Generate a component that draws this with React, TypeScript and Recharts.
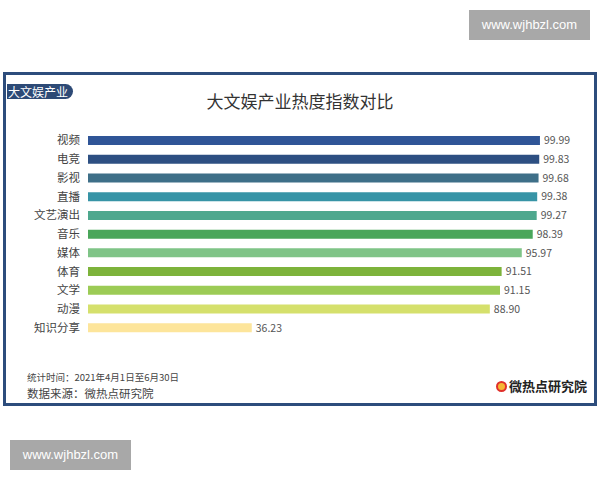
import { BarChart, Bar, XAxis, YAxis, Cell, LabelList } from 'recharts';

const categories = ['视频', '电竞', '影视', '直播', '文艺演出', '音乐', '媒体', '体育', '文学', '动漫', '知识分享'];
const heatValues = [99.99, 99.83, 99.68, 99.38, 99.27, 98.39, 95.97, 91.51, 91.15, 88.9, 36.23];
const barColors = [
  '#2f5597', '#2d4f82', '#3e6f88', '#3794a6', '#4ea88e', '#4aa65a',
  '#7fc487', '#7db33b', '#9ccb55', '#d5e06c', '#fde59b',
];

const data = categories.map((name, i) => ({ name, value: heatValues[i] }));

const font = '"Noto Sans CJK SC", "Noto Sans", sans-serif';

function Watermark({ left, top }: { left: number; top: number }) {
  return (
    <div
      style={{
        position: 'absolute',
        left,
        top,
        width: 121,
        height: 30,
        background: '#a8a8a8',
        color: '#fff',
        fontFamily: 'Arial, "Liberation Sans", sans-serif',
        fontSize: 13,
        lineHeight: '30px',
        textAlign: 'center',
      }}
    >
      www.wjhbzl.com
    </div>
  );
}

export default function App() {
  return (
    <div style={{ position: 'absolute', left: 0, top: 0, width: 600, height: 480, background: '#fff', fontFamily: font }}>
      <Watermark left={469} top={10} />
      <Watermark left={10} top={440} />

      {/* frame */}
      <div
        style={{
          position: 'absolute',
          left: 3,
          top: 72,
          width: 588,
          height: 328,
          border: '3px solid #2d4d7c',
        }}
      />
      <div
        style={{
          position: 'absolute',
          left: 7,
          top: 84,
          height: 15,
          padding: '0 5px 0 1px',
          background: '#2d4a76',
          color: '#fff',
          fontSize: 12,
          lineHeight: '15px',
          borderRadius: '0 8px 8px 0',
        }}
      >
        大文娱产业
      </div>
      <div
        style={{
          position: 'absolute',
          left: 0,
          width: 600,
          top: 89,
          textAlign: 'center',
          fontSize: 17,
          color: '#333',
          lineHeight: '24px',
        }}
      >
        大文娱产业热度指数对比
      </div>

      <div style={{ position: 'absolute', left: 0, top: 0 }}>
        <BarChart
          width={600}
          height={480}
          data={data}
          layout="vertical"
          margin={{ top: 131, right: 60, bottom: 143, left: 0 }}
        >
          <XAxis type="number" domain={[0, 100]} hide />
          <YAxis
            type="category"
            dataKey="name"
            width={88}
            interval={0}
            axisLine={false}
            tickLine={false}
            tick={{ fill: '#444', fontSize: 11.5, fontFamily: font }}
          />
          <Bar dataKey="value" barSize={9} isAnimationActive={false}>
            {data.map((d, i) => (
              <Cell key={d.name} fill={barColors[i]} />
            ))}
            <LabelList
              dataKey="value"
              position="right"
              offset={4}
              formatter={(v: any) => Number(v).toFixed(2)}
              style={{ fill: '#555', fontSize: 10.5, fontFamily: font }}
            />
          </Bar>
        </BarChart>
      </div>

      {/* footer */}
      <div style={{ position: 'absolute', left: 27, top: 370, fontSize: 9.5, color: '#444', lineHeight: '14px' }}>
        统计时间：2021年4月1日至6月30日
      </div>
      <div style={{ position: 'absolute', left: 27, top: 385, fontSize: 11.5, color: '#444', lineHeight: '16px' }}>
        数据来源：微热点研究院
      </div>
      <div
        style={{
          position: 'absolute',
          left: 496,
          top: 377,
          fontSize: 13,
          fontWeight: 'bold',
          color: '#222',
          lineHeight: '18px',
          display: 'flex',
          alignItems: 'center',
        }}
      >
        <span
          style={{
            display: 'inline-block',
            width: 11,
            height: 11,
            borderRadius: '50%',
            border: '2px solid #e0302b',
            background: '#f7b733',
            marginRight: 2,
            boxSizing: 'border-box',
          }}
        />
        微热点研究院
      </div>
    </div>
  );
}
